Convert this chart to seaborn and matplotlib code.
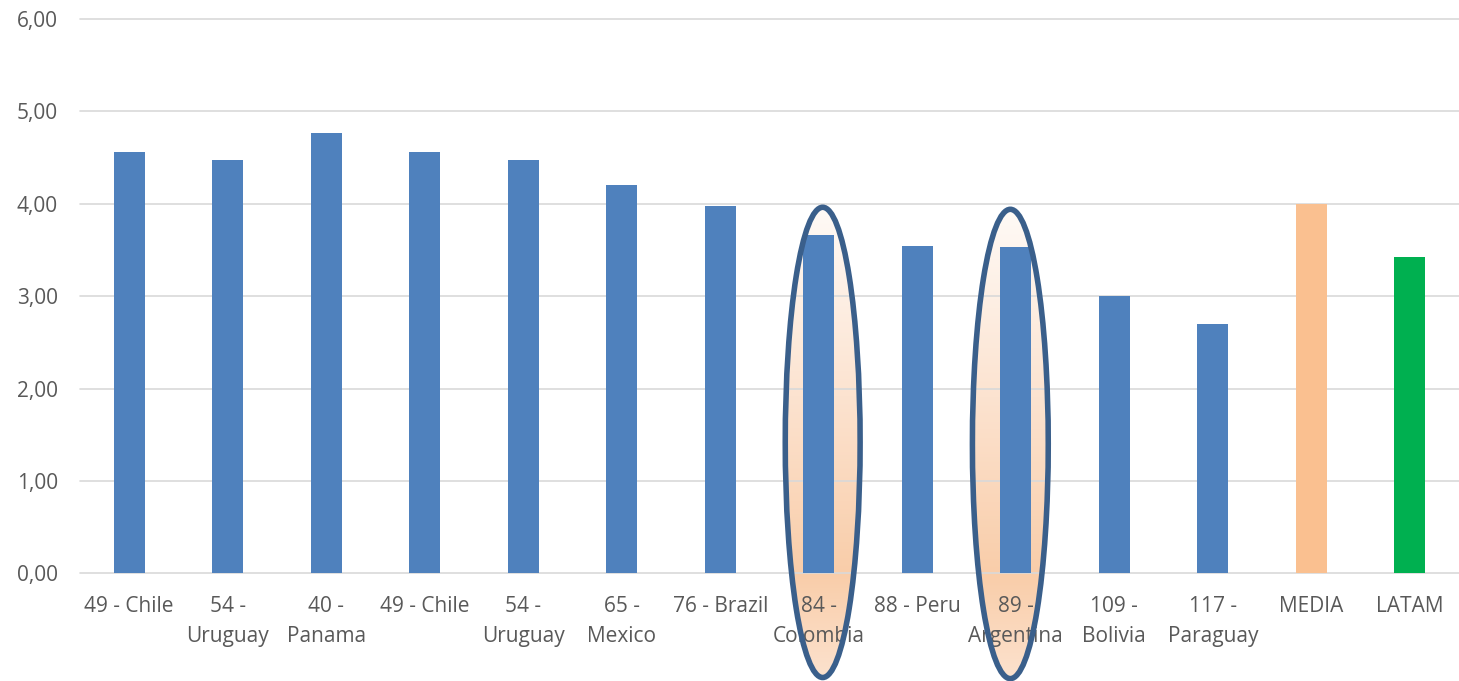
import numpy as np
import pandas as pd
import seaborn as sns
import matplotlib.pyplot as plt
from matplotlib.patches import Ellipse
from matplotlib.colors import LinearSegmentedColormap

# ---- data ----
categories = ["49 - Chile", "54 -\nUruguay", "40 -\nPanama", "49 - Chile", "54 -\nUruguay",
              "65 -\nMexico", "76 - Brazil", "84 -\nColombia", "88 - Peru", "89 -\nArgentina",
              "109 -\nBolivia", "117 -\nParaguay", "MEDIA", "LATAM"]
values = [4.56, 4.47, 4.77, 4.56, 4.47, 4.20, 3.98, 3.66, 3.54, 3.53, 3.00, 2.70, 4.00, 3.42]
bar_colors = ["#4F81BD"] * 12 + ["#FAC090", "#00B050"]
highlight_idx = [7, 9]
y_ticks = [0, 1, 2, 3, 4, 5, 6]

sns.set_theme(style="white")
plt.rcParams['font.family'] = ['Open Sans', 'DejaVu Sans']

W, H = 1459, 681
fig = plt.figure(figsize=(W / 100, H / 100), dpi=100)
ax = fig.add_axes([80 / W, 1 - 573.3 / H, 1379 / W, (573.3 - 19) / H])

keys = [f"k{i:02d}" for i in range(len(categories))]
df = pd.DataFrame({"key": keys, "value": values})
sns.barplot(data=df, x="key", y="value", hue="key", order=keys, hue_order=keys,
            palette=dict(zip(keys, bar_colors)), width=0.315, saturation=1,
            legend=False, ax=ax, zorder=3, linewidth=0, edgecolor="none")

# highlight ellipses with vertical gradient fill
grad_cmap = LinearSegmentedColormap.from_list(
    "peach", [(0.0, "#FCE2CE"), (0.22, "#F9CDA9"), (0.6, "#FCE3D0"), (1.0, "#FFFAF6")])
ell_params = {7: (0.04, 1.417, 0.76, 5.09), 9: (-0.055, 1.40, 0.77, 5.08)}
for i in highlight_idx:
    dx, cy, w, h = ell_params[i]
    cx = i + dx
    ell = Ellipse((cx, cy), w, h, facecolor="none", edgecolor="#3A5F8B",
                  lw=4, zorder=5, clip_on=False)
    ax.add_patch(ell)
    grad = np.linspace(0, 1, 256).reshape(-1, 1)
    im = ax.imshow(grad, cmap=grad_cmap, origin="lower", aspect="auto",
                   extent=(cx - w / 2, cx + w / 2, cy - h / 2, cy + h / 2), zorder=0.3)
    im.set_clip_path(ell)
    im.set_clip_box(fig.bbox)

ax.set_xlim(-0.5, len(categories) - 0.5)
ax.set_ylim(0, 6)
ax.set_xticks(range(len(categories)))
ax.set_xticklabels(categories, linespacing=1.6)
ax.set_yticks(y_ticks)
ax.set_yticklabels([f"{v:.2f}".replace(".", ",") for v in y_ticks])
ax.set_xlabel("")
ax.set_ylabel("")
ax.set_axisbelow(True)
ax.yaxis.grid(True, color="#D9D9D9", lw=1.2)
ax.xaxis.grid(False)
for gl in ax.get_ygridlines():
    gl.set_clip_on(False)
for s in ax.spines.values():
    s.set_visible(False)
ax.tick_params(axis="both", length=0, labelsize=15, labelcolor="#595959")
ax.tick_params(axis="x", pad=16)
ax.tick_params(axis="y", pad=16)
ax.patch.set_alpha(0)

fig.savefig("out.png", dpi=100)
